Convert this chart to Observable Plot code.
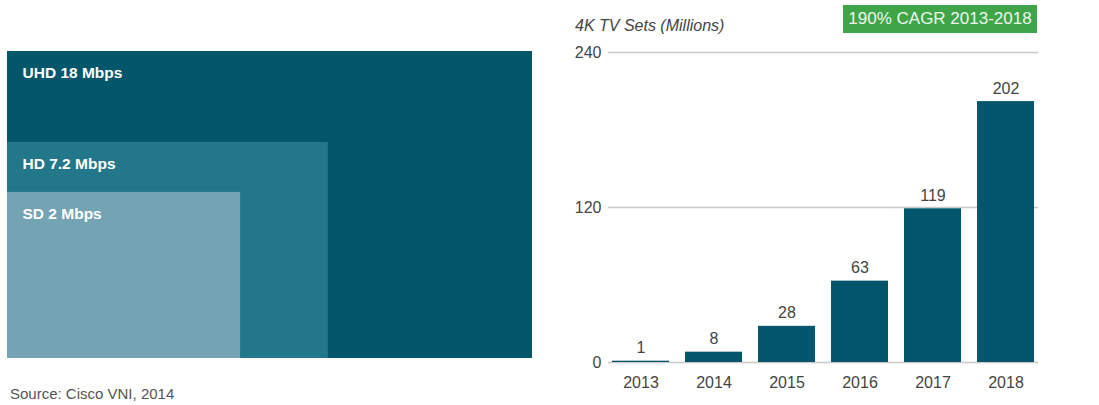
<!DOCTYPE html>
<html><head><meta charset="utf-8">
<script src="https://cdn.jsdelivr.net/npm/d3@7"></script>
<script src="https://cdn.jsdelivr.net/npm/@observablehq/plot@0.6"></script>
<style>
body{margin:0;background:#fff;font-family:"Liberation Sans",Arial,sans-serif;}
#wrap{position:relative;width:1099px;height:405px;overflow:hidden;background:#fff}
#left{position:absolute;left:0;top:0}
#right{position:absolute;left:545px;top:0}
.title{position:absolute;left:575px;top:17px;font-style:italic;font-size:16px;color:#444;white-space:nowrap}
.cagr{position:absolute;left:843px;top:5px;width:194px;height:28px;background:#3fa548;color:#eef8ee;font-size:17px;line-height:28px;text-align:center;white-space:nowrap}
.source{position:absolute;left:10px;top:385px;font-size:15px;color:#555;white-space:nowrap}
</style>
</head><body>
<div id="wrap">
  <div id="left"></div>
  <div id="right"></div>
  <div class="title">4K TV Sets (Millions)</div>
  <div class="cagr">190% CAGR 2013-2018</div>
  <div class="source">Source: Cisco VNI, 2014</div>
</div>
<script>
// Left panel: nested boxes for video bitrates
const formats = ["UHD", "HD", "SD"];
const bitrates = [18, 7.2, 2];
const boxWidth = [100, 61.1, 44.4];   // relative box width (% of UHD box)
const boxHeight = [100, 70.4, 54.1];  // relative box height (% of UHD box)
const boxColors = ["#04566a", "#23778a", "#74a3b4"];

// Right panel: 4K TV sets (millions)
const years = ["2013", "2014", "2015", "2016", "2017", "2018"];
const sets = [1, 8, 28, 63, 119, 202];
const yTicks = [0, 120, 240];

const boxes = formats.map((f, i) => ({
  format: f,
  label: `${f} ${bitrates[i]} Mbps`,
  w: boxWidth[i],
  h: boxHeight[i]
}));
const bars = years.map((y, i) => ({year: y, value: sets[i]}));

const font = '"Liberation Sans", Arial, sans-serif';

const left = Plot.plot({
  width: 545,
  height: 370,
  marginTop: 51,
  marginBottom: 12,
  marginLeft: 7,
  marginRight: 13,
  style: {fontFamily: font, background: "transparent"},
  x: {domain: [0, 100], axis: null},
  y: {domain: [0, 100], axis: null},
  color: {domain: formats, range: boxColors},
  marks: [
    Plot.rect(boxes, {x1: d => 0, x2: "w", y1: d => 0, y2: "h", fill: "format"}),
    Plot.text(boxes, {
      x: d => 0, y: "h", text: "label",
      dx: 15, dy: 22, textAnchor: "start",
      fill: "white", fontWeight: "bold", fontSize: 15.5
    })
  ]
});
document.getElementById("left").appendChild(left);

const right = Plot.plot({
  width: 554,
  height: 405,
  marginTop: 52,
  marginBottom: 43,
  marginLeft: 63,
  marginRight: 61,
  style: {fontFamily: font, fontSize: "16px", color: "#444", background: "transparent"},
  x: {type: "band", domain: years, paddingInner: 0.22, paddingOuter: 0.04},
  y: {domain: [0, 240]},
  marks: [
    Plot.ruleY(yTicks, {stroke: "#c8c8c8", strokeWidth: 1.5}),
    Plot.barY(bars, {x: "year", y: "value", fill: "#03566b"}),
    Plot.text(bars, {x: "year", y: "value", text: d => String(d.value), dy: -13, fill: "#444", fontSize: 16}),
    Plot.axisY({ticks: yTicks, tickSize: 0, tickPadding: 7, label: null, fontSize: 16}),
    Plot.axisX({tickSize: 0, tickPadding: 14, label: null, fontSize: 16})
  ]
});
document.getElementById("right").appendChild(right);
</script>
</body></html>
